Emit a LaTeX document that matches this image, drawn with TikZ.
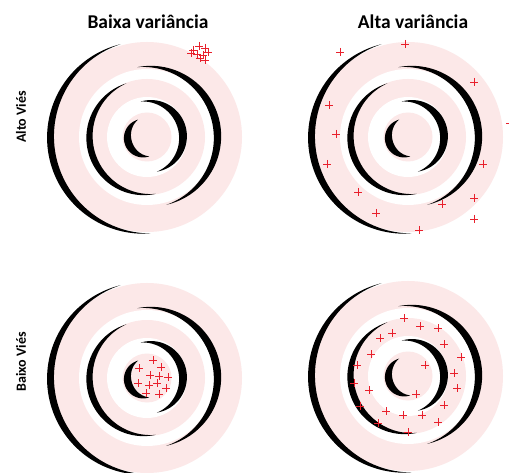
\documentclass[tikz,border=0pt]{standalone}
\usepackage{fontspec}
\setmainfont{Carlito}
\definecolor{pinkc}{RGB}{252,232,232}
\definecolor{mkred}{RGB}{232,32,44}
% radius, thickness, center angle, half span, start, end
\newcommand\mycresc[6]{%
  \fill plot[domain=#5:#6,samples=72] (\x:{#1+0.5*#2*cos((\x-(#3))*90/#4)})
     -- plot[domain=#6:#5,samples=72] (\x:{#1-0.5*#2*cos((\x-(#3))*90/#4)}) -- cycle;}
\newcommand\mytarget[2]{%
  \begin{scope}[shift={(#1,#2)}]
    \fill[pinkc] (0,0) circle (95);
    \fill[white] (0,0) circle (68);
    \fill[pinkc] (0,0) circle (58);
    \fill[white] (0,0) circle (40);
    \fill[pinkc] (0,0) circle (24.5);
    \mycresc{96.5}{7}{171}{83}{88}{254}
    \mycresc{70.5}{7.5}{-12}{86}{-98}{74}
    \mycresc{57.5}{6.5}{165}{84}{81}{249}
    \mycresc{36}{8}{-13}{87}{-100}{74}
    \mycresc{19.5}{7.5}{163}{80}{83}{243}
  \end{scope}}
\tikzset{
  mk/.style={draw=mkred,line width=0.8pt},
  ttl/.style={font=\fontsize{19.5}{22}\selectfont\bfseries,inner sep=0pt},
  sidelab/.style={font=\fontsize{14}{16}\selectfont\bfseries,inner sep=0pt,rotate=90}
}
\begin{document}
\begin{tikzpicture}[x=1pt,y=-1pt]
\fill[white] (0,0) rectangle (509,473);
\path[use as bounding box] (0,0) rectangle (509,473);
\mytarget{147}{137}
\mytarget{408}{137}
\mytarget{147}{378}
\mytarget{408}{376}
\node[ttl] (t1) at (148,22) {Baixa variância};
\node[ttl] (t2) at (413,22) {Alta variância};
\node[sidelab] (s1) at (21,117) {Alto Viés};
\node[sidelab] (s2) at (21,362) {Baixo Viés};
\foreach \a/\b in {193/50,199/46,205/48,197/54,203/55,208/52,200/58,205/60,191/53,
  340/52,405/44,474/82,329/105,336/134,327/164,483/164,358/192,474/198,442/204,376/213,474/219,419/230,510/123,
  153/360,139/368,161/367,150/375,159/376,168/377,138/383,149/385,157/383,166/388,146/393,159/394,
  404/318,420/326,438/328,380/338,392/333,444/344,371/354,461/357,357/365,425/365,454/373,354/383,369/390,457/388,416/394,360/406,444/405,386/411,403/415,422/415,438/422,378/423,408/432}
  \draw[mk] (\a-4,\b) -- (\a+4,\b) (\a,\b-4) -- (\a,\b+4);
\end{tikzpicture}
\end{document}
